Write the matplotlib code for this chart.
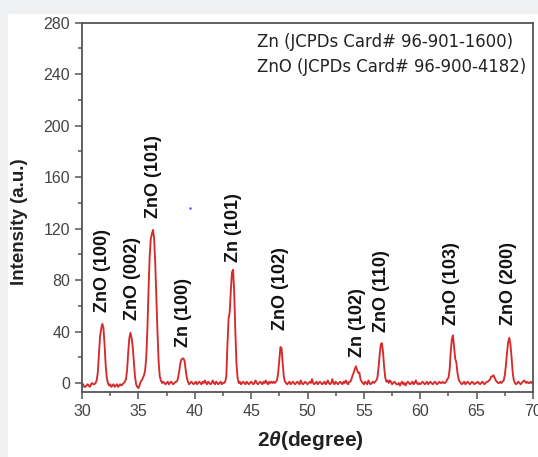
import numpy as np
import matplotlib
matplotlib.use('Agg')
import matplotlib.pyplot as plt
from matplotlib.ticker import MultipleLocator
from matplotlib.patches import Rectangle

plt.rcParams['font.family'] = 'Liberation Sans'
plt.rcParams['mathtext.fontset'] = 'custom'
plt.rcParams['mathtext.it'] = 'Liberation Sans:bold:italic'

# XRD pattern, sampled every 0.1 degree from 30 to 70 (one row per degree)
two_theta = np.round(np.arange(30.0, 70.05, 0.1), 1)
intensity = [
    -2, -1, -3, -3, -2, -1, -2, -3, -1, 0,        # 30
    -1, -1, 0, 2, 8, 22, 36, 42, 46, 43,          # 31
    30, 14, 4, 0, -2, -1, -3, -2, -1, -3,         # 32
    -2, -1, -3, -2, -1, -2, -1, 0, 1, 3,          # 33
    10, 24, 35, 39, 35, 28, 16, 5, -1, -3,        # 34
    -4, -2, 1, 2, 4, 6, 10, 20, 42, 72,           # 35
    98, 112, 116, 119, 112, 92, 65, 38, 16, 5,    # 36
    2, 0, 1, 0, -1, 0, 1, -1, 0, 1,               # 37
    0, -1, 0, 1, 1, 3, 8, 14, 18, 19,             # 38
    19, 17, 10, 4, 1, -1, 0, 1, 0, -1,            # 39
    0, 1, -1, 0, 1, 0, -1, 1, 0, 2,               # 40
    0, -1, 1, 0, -1, 0, 2, 0, -1, 1,              # 41
    0, -1, 0, 1, -1, 0, 0, 1, 5, 30,              # 42
    50, 55, 72, 86, 88, 70, 40, 15, 4, 0,         # 43
    1, -1, 0, 1, 0, -1, 1, 0, -1, 0,              # 44
    1, 0, -1, 0, 2, 0, -1, 0, 1, 0,               # 45
    -1, 1, 0, 2, 0, -1, 1, 0, 1, 0,               # 46
    1, 0, 1, 2, 8, 18, 28, 27, 15, 5,             # 47
    1, 0, -1, 0, 1, -1, 0, 1, 0, -1,              # 48
    0, 1, 0, -1, 2, 0, -1, 0, 1, 0,               # 49
    -1, 0, 1, 0, 3, 0, -1, 0, 1, -1,              # 50
    0, 1, 0, -1, 0, 1, -1, 0, 2, 0,               # 51
    -1, 0, 3, 0, -1, 1, 0, -1, 0, 1,              # 52
    0, -1, 1, 0, 2, 0, -1, 1, 1, 3,               # 53
    6, 8, 11, 13, 10, 8, 8, 3, 1, 0,              # 54
    -1, 1, 0, -1, 2, 0, -1, 0, 1, 0,              # 55
    1, 2, 4, 12, 22, 30, 31, 24, 12, 4,           # 56
    1, 2, 0, 2, 1, -1, 0, 1, 0, -1,               # 57
    -1, 0, -2, 0, 1, -1, 0, -2, 0, 1,             # 58
    0, -1, 0, 1, -1, 0, 2, 0, -1, 0,              # 59
    -1, 0, 1, 0, -1, 0, 1, -1, 0, 1,              # 60
    0, -1, 0, 1, 0, -1, 0, 1, 0, 0,               # 61
    1, 0, 0, 1, 3, 4, 10, 24, 34, 37,             # 62
    28, 19, 16, 8, 3, 1, 0, -1, 0, 1,             # 63
    -1, 0, 1, 0, -1, 0, 1, 0, -1, 0,              # 64
    0, 1, 0, -1, 0, 1, 0, -1, 0, 1,               # 65
    1, 2, 3, 5, 5, 6, 4, 2, 1, 0,                 # 66
    0, 1, 0, 1, 2, 6, 14, 24, 32, 35,             # 67
    30, 20, 8, 2, 0, -1, 0, 1, 0, -1,             # 68
    0, 1, 2, 1, 0, 1, 0, 0, 1, 0,                 # 69
    0,                                            # 70
]

peak_labels = ['ZnO (100)', 'ZnO (002)', 'ZnO (101)', 'Zn (100)', 'Zn (101)',
               'ZnO (102)', 'Zn (102)', 'ZnO (110)', 'ZnO (103)', 'ZnO (200)']
label_x = [31.8, 34.5, 36.3, 39.0, 43.4, 47.6, 54.4, 56.6, 62.8, 67.8]
label_y = [55, 49, 128, 28, 94, 41, 20, 40, 45, 45]

card_lines = ['Zn (JCPDs Card# 96-901-1600)', 'ZnO (JCPDs Card# 96-900-4182)']

stray_dot_x = [39.58]
stray_dot_y = [136]

W, H = 538, 457
fig = plt.figure(figsize=(W / 100, H / 100), dpi=100)
fig.patch.set_facecolor('white')
# light grey page edge on top and left
fig.patches.append(Rectangle((0, 1 - 14 / H), 1, 14 / H, transform=fig.transFigure,
                             facecolor='#eef0f2', edgecolor='none', zorder=-1))
fig.patches.append(Rectangle((0, 0), 8 / W, 1, transform=fig.transFigure,
                             facecolor='#eef0f2', edgecolor='none', zorder=-1))

ax = fig.add_axes([82 / W, 1 - 392 / H, (533 - 82) / W, (392 - 22.7) / H])
ax.plot(two_theta, intensity, color='#d62b2b', lw=1.35)
ax.plot(stray_dot_x, stray_dot_y, 's', color='#2030ff', ms=1.6, mec='none')

ax.set_xlim(30, 70)
ax.set_ylim(-7, 280)
ax.xaxis.set_major_locator(MultipleLocator(5))
ax.xaxis.set_minor_locator(MultipleLocator(2.5))
ax.yaxis.set_major_locator(MultipleLocator(40))
ax.yaxis.set_minor_locator(MultipleLocator(20))
ax.tick_params(which='both', direction='out', colors='#555555', width=1.1,
               labelcolor='#444444', labelsize=11.5, top=False, right=False)
ax.tick_params(which='major', length=5)
ax.tick_params(which='minor', length=2.8)
for s in ax.spines.values():
    s.set_color('#555555')
    s.set_linewidth(1.3)

for lab, x, y in zip(peak_labels, label_x, label_y):
    ax.text(x, y, lab, rotation=90, ha='center', va='bottom',
            fontsize=13, fontweight='bold', color='#111111')

for i, line in enumerate(card_lines):
    fig.text(257 / W, 1 - (42 + 25 * i) / H, line, family='DejaVu Sans',
             fontsize=11.9, color='#222222', va='center', ha='left')

fig.text(20 / W, 1 - 222 / H, 'Intensity (a.u.)', rotation=90, ha='center',
         va='center', fontsize=13.5, fontweight='bold', color='#222222')
fig.text(310 / W, 1 - 440 / H, '2$\\mathit{\\theta}$(degree)', ha='center',
         va='center', fontsize=15, fontweight='bold', color='#222222')

fig.savefig('out.png', dpi=100)
